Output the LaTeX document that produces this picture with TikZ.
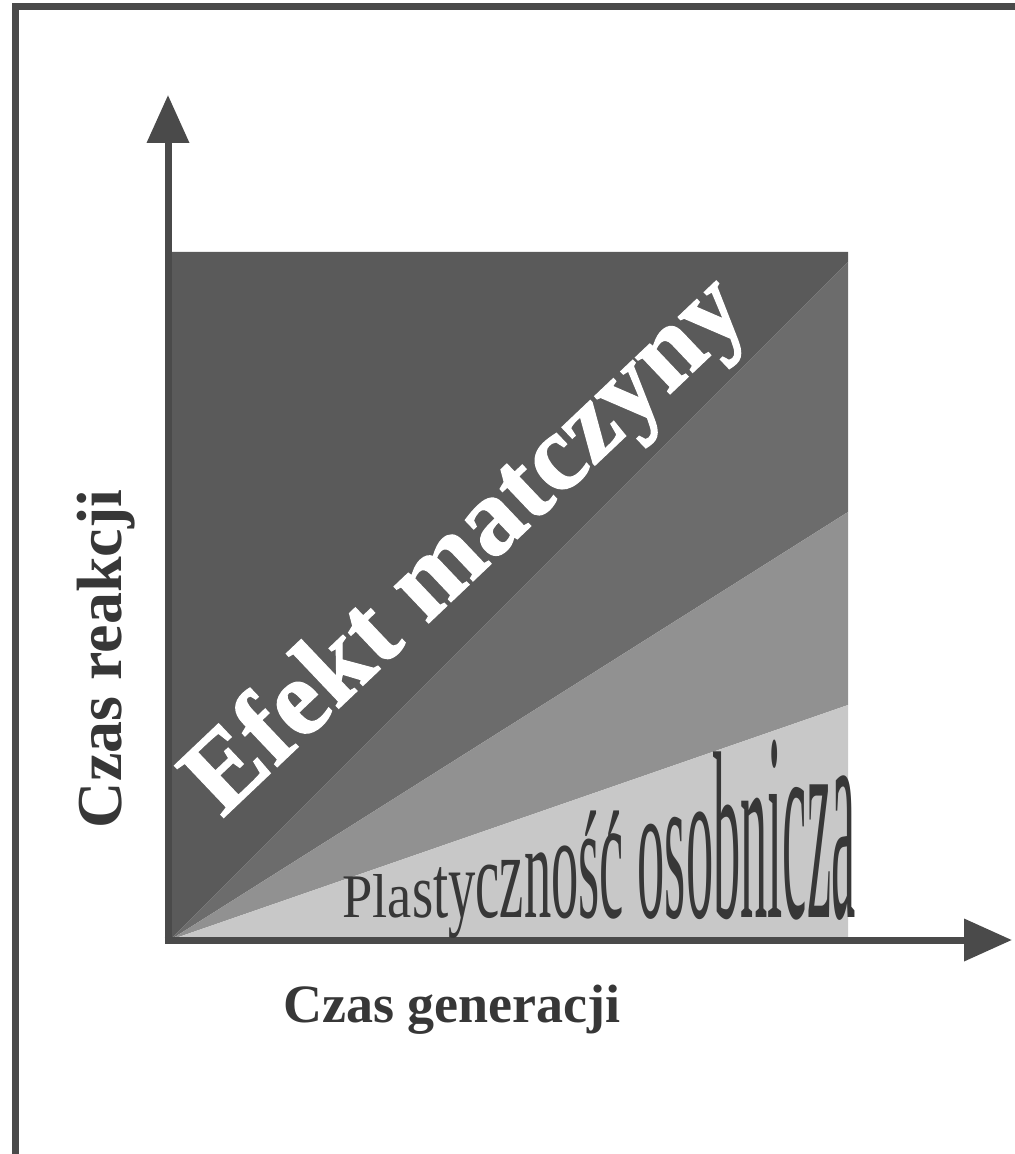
\documentclass[tikz,border=0pt]{standalone}
\usepackage{fontspec}
\setmainfont{Liberation Serif}
\newfontfamily\heavyserif{Liberation Serif}[BoldFeatures={FakeBold=1.2}]
\usepackage{xcolor}
\usepackage{graphicx}
\usetikzlibrary{arrows.meta}
\definecolor{axisgray}{RGB}{74,74,74}
\definecolor{textgray}{RGB}{55,55,55}
\definecolor{bandA}{RGB}{90,90,90}
\definecolor{bandB}{RGB}{108,108,108}
\definecolor{bandC}{RGB}{145,145,145}
\definecolor{bandD}{RGB}{200,200,200}

\begin{document}
\begin{tikzpicture}[x=0.5pt, y=-0.5pt,
    axis/.style={line width=3.5pt, axisgray, -{Triangle[length=24pt, width=20.5pt]}},
    axislabel/.style={text=textgray, font=\bfseries, inner sep=0pt},
    plast/.style={text=textgray, inner sep=0pt, anchor=base west, font=\fontsize{20pt}{24pt}\selectfont}]
    \useasboundingbox (0,0) rectangle (1014,1154);
    % frame, cut by the page
    \draw[line width=3.5pt, axisgray] (15.5,6.5) rectangle (1060,1200);

    \coordinate (O) at (170,940);
    \coordinate (TL) at (170,252);
    \coordinate (TR) at (848,252);
    \coordinate (R1) at (848,262);
    \coordinate (R2) at (848,512);
    \coordinate (R3) at (848,705);
    \coordinate (BR) at (848,940);

    % bands
    \fill[bandA] (O) -- (TL) -- (TR) -- (R1) -- cycle;
    \fill[bandB] (O) -- (R1) -- (R2) -- cycle;
    \fill[bandC] (O) -- (R2) -- (R3) -- cycle;
    \fill[bandD] (O) -- (R3) -- (BR) -- cycle;

    % axes
    \coordinate (ybase) at (168,943.5);
    \coordinate (ytip) at (168,95);
    \coordinate (xbase) at (164.5,940);
    \coordinate (xtip) at (1012,940);
    \draw[axis] (ybase) -- (ytip);
    \draw[axis] (xbase) -- (xtip);

    \node[axislabel, font=\fontsize{32pt}{36pt}\bfseries, rotate=90, anchor=base] (ylab) at (121,659) {Czas reakcji};
    \node[axislabel, font=\fontsize{27pt}{32pt}\bfseries, anchor=base] (xlab) at (452,1022) {Czas generacji};

    \node[text=white, font=\fontsize{54.5pt}{60pt}\heavyserif\bfseries, inner sep=0pt, rotate=43.5, anchor=base west] (maternal) at (222,819) {Efekt matczyny};

    % growing letters (last field: width of a letter that takes an accent)
    \foreach \ch/\pos/\acc in {P/0/0,l/556/0,a/834/0,s/1278/0,t/1667/0,y/1945/0,c/2445/0,z/2889/0,n/3333/0,o/3833/0,s/4333/389,c/4722/444,o/5416/0,s/5916/0,o/6305/0,b/6805/0,n/7305/0,i/7805/0,c/8083/0,z/8527/0,a/8971/0} {
        \pgfmathsetmacro{\lx}{342+0.0545*\pos}
        \pgfmathsetmacro{\sy}{(62+0.536*max(0,\lx+12-395))/40}
        \node[plast] (letter\pos) at (\lx,917) {\scalebox{1.3625}[\sy]{\ch}};
        \ifnum\acc>0
            \node[plast, anchor=base] (accent\pos) at (\lx+0.0545*\acc*0.6,930) {\scalebox{1.3625}[4.3]{´}};
        \fi
    }
\end{tikzpicture}
\end{document}
